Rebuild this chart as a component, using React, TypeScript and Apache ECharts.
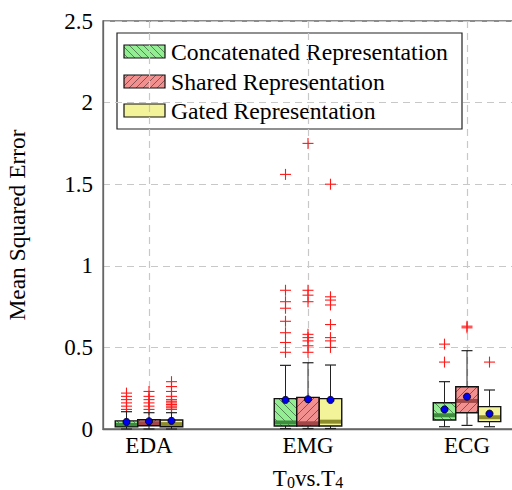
import React, { useEffect, useRef } from "react";
import * as echarts from "echarts";

const FONT = "'Liberation Serif', 'Times New Roman', serif";

const categories = ["EDA", "EMG", "ECG"];
const seriesNames = ["Concatenated Representation", "Shared Representation", "Gated Representation"];
const fills = ["#93ee93", "#f29090", "#f3f39a"];
const medianColors = ["#3e8c3e", "#a34848", "#8c8c2c"];
const hatchDirs = [1, -1, 0];

// box statistics per series, one value per category
const concatMin = [0.0, 0.003, 0.014];
const concatQ1 = [0.013, 0.018, 0.055];
const concatMed = [0.025, 0.04, 0.084];
const concatQ3 = [0.05, 0.186, 0.161];
const concatMax = [0.106, 0.39, 0.29];
const concatMean = [0.043, 0.178, 0.12];

const sharedMin = [0.0, 0.003, 0.022];
const sharedQ1 = [0.02, 0.018, 0.1];
const sharedMed = [0.035, 0.035, 0.172];
const sharedQ3 = [0.057, 0.194, 0.259];
const sharedMax = [0.1, 0.406, 0.48];
const sharedMean = [0.047, 0.182, 0.198];

const gatedMin = [0.0, 0.003, 0.014];
const gatedQ1 = [0.014, 0.018, 0.045];
const gatedMed = [0.03, 0.045, 0.072];
const gatedQ3 = [0.055, 0.186, 0.137];
const gatedMax = [0.1, 0.392, 0.239];
const gatedMean = [0.05, 0.178, 0.094];

// outliers per series, per category
const concatOutliers = [
  [0.12, 0.14, 0.16, 0.18, 0.2, 0.22],
  [1.56, 0.85, 0.78, 0.74, 0.66, 0.59, 0.53, 0.47],
  [0.52, 0.41],
];
const sharedOutliers = [
  [0.12, 0.14, 0.16, 0.18, 0.2, 0.23],
  [1.75, 0.85, 0.82, 0.78, 0.58, 0.56, 0.54, 0.51, 0.47],
  [0.63, 0.62],
];
const gatedOutliers = [
  [0.12, 0.13, 0.14, 0.15, 0.16, 0.17, 0.18, 0.2, 0.23, 0.26, 0.29],
  [1.5, 0.81, 0.79, 0.76, 0.64, 0.56, 0.54, 0.5],
  [0.41],
];

const yTicks = [0, 0.5, 1, 1.5, 2, 2.5];

const stats = [
  [concatMin, concatQ1, concatMed, concatQ3, concatMax, concatMean],
  [sharedMin, sharedQ1, sharedMed, sharedQ3, sharedMax, sharedMean],
  [gatedMin, gatedQ1, gatedMed, gatedQ3, gatedMax, gatedMean],
];
const outliers = [concatOutliers, sharedOutliers, gatedOutliers];

const OFFSET = 22.5;
const BOX_W = 22.5;
const CAP = 11;
const HATCH = 8;

function hatchSegments(x: number, y: number, w: number, h: number, dir: number, sp: number) {
  const segs: number[][] = [];
  if (dir === 1) {
    const kStart = Math.floor((x - (y + h)) / sp) * sp;
    for (let k = kStart; k <= x + w - y; k += sp) {
      const xa = Math.max(x, y + k);
      const xb = Math.min(x + w, y + h + k);
      if (xb > xa) segs.push([xa, xa - k, xb, xb - k]);
    }
  } else if (dir === -1) {
    const kStart = Math.floor((x + y) / sp) * sp;
    for (let k = kStart; k <= x + w + y + h; k += sp) {
      const xa = Math.max(x, k - y - h);
      const xb = Math.min(x + w, k - y);
      if (xb > xa) segs.push([xa, k - xa, xb, k - xb]);
    }
  }
  return segs;
}

function hatchLines(x: number, y: number, w: number, h: number, dir: number, sp: number) {
  return hatchSegments(x, y, w, h, dir, sp).map((s) => ({
    type: "line",
    shape: { x1: s[0], y1: s[1], x2: s[2], y2: s[3] },
    style: { stroke: "rgba(0,0,0,0.55)", lineWidth: 0.8 },
    silent: true,
  }));
}

function boxRender(g: number) {
  return (params: any, api: any) => {
    const c = api.value(0);
    const base = api.coord([c, 0]);
    const x = base[0] + (g - 1) * OFFSET;
    const yv = (i: number) => api.coord([c, api.value(i)])[1];
    const yMin = yv(1), yQ1 = yv(2), yMed = yv(3), yQ3 = yv(4), yMax = yv(5), yMean = yv(6);
    const half = BOX_W / 2;
    const bx = x - half;
    const children: any[] = [
      { type: "line", shape: { x1: x, y1: yQ3, x2: x, y2: yMax }, style: { stroke: "#222", lineWidth: 1 } },
      { type: "line", shape: { x1: x - CAP / 2, y1: yMax, x2: x + CAP / 2, y2: yMax }, style: { stroke: "#222", lineWidth: 1.2 } },
      { type: "line", shape: { x1: x, y1: yQ1, x2: x, y2: yMin }, style: { stroke: "#222", lineWidth: 1 } },
      { type: "line", shape: { x1: x - CAP / 2, y1: yMin, x2: x + CAP / 2, y2: yMin }, style: { stroke: "#222", lineWidth: 1.2 } },
      { type: "rect", shape: { x: bx, y: yQ3, width: BOX_W, height: yQ1 - yQ3 }, style: { fill: fills[g], stroke: "none" } },
      ...hatchLines(bx, yQ3, BOX_W, yQ1 - yQ3, hatchDirs[g], HATCH),
      { type: "line", shape: { x1: bx, y1: yMed, x2: bx + BOX_W, y2: yMed }, style: { stroke: medianColors[g], lineWidth: 4 } },
      { type: "rect", shape: { x: bx, y: yQ3, width: BOX_W, height: yQ1 - yQ3 }, style: { fill: "none", stroke: "#111", lineWidth: 1.4 } },
      { type: "circle", shape: { cx: x, cy: yMean, r: 3.6 }, style: { fill: "#0000ee", stroke: "#000", lineWidth: 0.8 } },
    ];
    return { type: "group", children };
  };
}

function outlierRender(params: any, api: any) {
  const c = api.value(0);
  const g = api.value(2);
  const p = api.coord([c, api.value(1)]);
  const x = p[0] + (g - 1) * OFFSET;
  const y = p[1];
  const s = 5.5;
  return {
    type: "group",
    children: [
      { type: "line", shape: { x1: x - s, y1: y, x2: x + s, y2: y }, style: { stroke: "#ff1a1a", lineWidth: 1.1 } },
      { type: "line", shape: { x1: x, y1: y - s, x2: x, y2: y + s }, style: { stroke: "#ff1a1a", lineWidth: 1.1 } },
    ],
  };
}

const GRID_LEFT = 103;
const GRID_TOP = 21;
const GRID_W = 410;
const GRID_H = 408;
const X_MARGIN = 46 / 159;

export default function App() {
  const ref = useRef<HTMLDivElement>(null);
  useEffect(() => {
    if (!ref.current) return;
    const chart = echarts.init(ref.current, undefined, { renderer: "svg" });

    const series: any[] = [];
    for (let g = 0; g < 3; g++) {
      const [mn, q1, md, q3, mx, mean] = stats[g];
      series.push({
        type: "custom",
        name: seriesNames[g],
        renderItem: boxRender(g),
        data: categories.map((_, i) => [i + 1, mn[i], q1[i], md[i], q3[i], mx[i], mean[i]]),
        encode: { x: 0, y: [1, 5] },
        z: 3,
      });
    }
    const outData: number[][] = [];
    for (let g = 0; g < 3; g++) {
      outliers[g].forEach((arr, i) => arr.forEach((v) => outData.push([i + 1, v, g])));
    }
    series.push({
      type: "custom",
      renderItem: outlierRender,
      data: outData,
      encode: { x: 0, y: 1 },
      z: 2,
    });

    // legend built from graphic elements
    const legendChildren: any[] = [
      { type: "rect", shape: { x: 117, y: 33, width: 345, height: 96 }, style: { fill: "#fff", stroke: "#222", lineWidth: 1.2 } },
    ];
    const rowY = [51.5, 81.5, 110.5];
    for (let g = 0; g < 3; g++) {
      const sx = 124, sw = 41, sh = 13, sy = rowY[g] - sh / 2;
      legendChildren.push({ type: "rect", shape: { x: sx, y: sy, width: sw, height: sh }, style: { fill: fills[g], stroke: "none" } });
      legendChildren.push(...hatchLines(sx, sy, sw, sh, hatchDirs[g], 7));
      legendChildren.push({ type: "rect", shape: { x: sx, y: sy, width: sw, height: sh }, style: { fill: "none", stroke: "#111", lineWidth: 1.2 } });
      legendChildren.push({
        type: "text",
        x: 171,
        y: rowY[g],
        style: { text: seriesNames[g], font: `23.7px ${FONT}`, fill: "#000", verticalAlign: "middle", textAlign: "left" },
      });
    }

    chart.setOption({
      animation: false,
      backgroundColor: "#fff",
      grid: {
        left: GRID_LEFT,
        top: GRID_TOP,
        width: GRID_W,
        height: GRID_H,
        containLabel: false,
        outerBoundsMode: "none",
        show: true,
        borderColor: "#666",
        borderWidth: 1.3,
        backgroundColor: "transparent",
      },
      xAxis: {
        type: "value",
        min: 1 - X_MARGIN,
        max: 3 + X_MARGIN,
        name: "{t|T}{s|0}{t|vs.T}{s|4}",
        nameLocation: "middle",
        nameGap: 35,
        nameTextStyle: {
          fontFamily: FONT,
          color: "#000",
          rich: {
            t: { fontFamily: FONT, fontSize: 23, color: "#000", verticalAlign: "bottom", lineHeight: 26 },
            s: { fontFamily: FONT, fontSize: 16, color: "#000", verticalAlign: "bottom", lineHeight: 15 },
          },
        },
        axisLine: { show: true, lineStyle: { color: "#666", width: 1.3 } },
        axisTick: { show: false, customValues: [1, 2, 3] },
        axisLabel: {
          customValues: [1, 2, 3],
          formatter: (v: number) => categories[Math.round(v) - 1] ?? "",
          fontFamily: FONT,
          fontSize: 23,
          color: "#000",
          margin: 5,
        },
        splitLine: { show: true, lineStyle: { color: "#c8c8c8", type: [7, 5], width: 1.2 } },
      },
      yAxis: {
        type: "value",
        min: 0,
        max: 2.5,
        interval: 0.5,
        name: "Mean Squared Error",
        nameLocation: "middle",
        nameGap: 75,
        nameRotate: 90,
        nameTextStyle: { fontFamily: FONT, fontSize: 23.4, color: "#000" },
        axisLine: { show: true, lineStyle: { color: "#666", width: 1.3 } },
        axisTick: { show: false },
        axisLabel: {
          fontFamily: FONT,
          fontSize: 23,
          color: "#000",
          margin: 10,
          formatter: (v: number) => (yTicks.includes(v) ? String(v) : ""),
        },
        splitLine: { show: true, lineStyle: { color: "#c8c8c8", type: [7, 5], width: 1.2 } },
      },
      graphic: [{ type: "group", children: legendChildren, z: 100 }],
      series,
    });
    return () => chart.dispose();
  }, []);
  return <div ref={ref} style={{ position: "fixed", left: 0, top: 0, width: 512, height: 490 }} />;
}
